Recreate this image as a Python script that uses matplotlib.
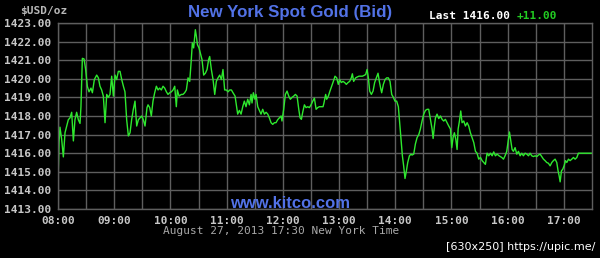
import matplotlib
matplotlib.use("Agg")
import matplotlib.pyplot as plt

# minutes after 08:00 and bid price
times = [0, 1.1, 2.1, 3.9, 5.7, 7.5, 9.3, 11.0, 12.8, 14.6, 16.4, 18.1, 19.9, 21.7, 23.5, 24.5,
         26.0, 27.8, 29.5, 31.3, 33.1, 35.2, 36.7, 38.8, 41.3, 43.1, 44.8, 46.6, 48.4, 50.2, 52.0,
         53.7, 55.5, 57.3, 59.1, 60.9, 62.6, 64.4, 66.2, 68.0, 69.8, 71.5, 73.3, 75.1, 76.9, 78.6,
         80.4, 82.2, 84.0, 85.8, 87.5, 89.3, 91.1, 92.9, 95.0,
         96.1, 97.9, 99.6, 101.4, 103.2, 105.0, 106.8, 108.5, 110.3, 112.1, 113.9, 115.7, 117.4,
         119.2, 121.0, 122.8, 124.6, 126.3, 127.4, 129.2, 131.6, 133.4, 135.2, 137.0, 138.8, 140.6,
         142.3, 143.4, 144.8, 146.6, 147.7, 148.8, 150.5, 151.9, 153.7, 155.5, 157.3, 159.1, 160.8,
         161.9, 163.7, 165.5, 167.3, 169.0, 170.8, 172.6, 174.4, 176.1, 177.9, 179.7, 181.5, 183.3,
         185.1, 186.8, 189.0,
         191.8, 193.6, 195.4, 197.2, 198.9, 200.7, 202.5, 204.3, 206.1, 207.1, 208.5, 210.3, 211.4,
         213.2, 215.0, 216.7, 218.5, 220.3, 222.1, 223.9, 225.6, 227.4, 229.2, 231.0, 232.7, 234.5,
         236.3, 238.1, 239.1, 240.9, 242.7, 244.5, 246.3, 248.0, 249.8, 251.6, 253.4, 255.2, 257.0,
         258.4, 259.8, 261.2, 263.0, 264.8, 266.6, 268.3, 270.1, 271.9, 273.7, 275.5, 277.2, 279.0,
         280.8, 282.9,
         283.9, 285.7, 286.8, 288.6, 290.3, 292.1, 293.9, 295.7, 297.5, 299.2, 300.7, 302.4, 304.2,
         306.0, 307.8, 309.6, 311.3, 313.1, 314.2, 315.6, 317.7, 319.5, 321.3, 323.1, 324.9, 326.6,
         328.4, 329.9, 331.3, 332.7, 334.5, 336.3, 338.0, 339.8, 341.6, 343.0, 344.4, 345.5, 347.3,
         349.1, 350.8, 352.6, 354.4, 356.2, 358.0, 359.7, 361.5, 363.3, 364.7, 366.2, 367.6, 369.0,
         370.4, 371.9, 373.3, 375.1, 376.8,
         377.9, 379.7, 381.5, 383.3, 385.1, 386.8, 388.6, 390.4, 392.2, 394.0, 395.7, 397.5, 399.3,
         400.4, 401.8, 402.9, 404.6, 406.4, 408.2, 410.0, 411.7, 413.5, 415.3, 417.1, 418.9, 420.3,
         421.7, 423.1, 424.6, 426.0, 427.1, 428.5, 429.9, 431.3, 433.1, 434.9, 436.7, 438.4, 440.2,
         442.0, 443.8, 445.6, 447.3, 449.1, 450.9, 452.7, 454.5, 456.2, 458.0, 459.8, 461.6, 463.4,
         465.1, 466.9, 468.7, 470.8,
         473.7, 475.5, 477.2, 479.0, 480.8, 481.9, 483.3, 484.7, 486.1, 487.9, 489.7, 491.5, 493.3,
         495.0, 496.8, 498.6, 500.4, 502.2, 503.9, 505.7, 507.5, 509.3, 511.1, 512.8, 514.6, 516.4,
         518.2, 519.9, 521.7, 523.5, 525.3, 527.1, 528.8, 530.6, 532.4, 533.8, 534.9, 536.0, 537.4,
         538.8, 540.2, 541.7, 543.1, 544.9, 546.6, 548.4, 550.2, 552.0, 553.8, 555.5, 557.3, 570.0]

prices = [1414.43, 1416.57, 1417.40, 1416.75, 1415.80, 1417.10, 1417.46, 1417.80, 1417.90, 1418.20,
          1416.66, 1417.80, 1418.20, 1417.80, 1417.60, 1418.50, 1421.10, 1421.07, 1420.50, 1419.60,
          1419.30, 1419.50, 1419.25, 1419.96, 1420.20, 1420.05, 1419.60, 1419.40, 1419.07, 1417.64,
          1419.16, 1419.00, 1419.16, 1420.14, 1419.07, 1420.20, 1419.96, 1420.40, 1420.40, 1419.96,
          1419.60, 1419.30, 1417.80, 1416.93, 1417.10, 1417.80, 1418.36, 1418.80, 1417.46, 1417.80,
          1417.90, 1418.00, 1417.80, 1417.46, 1418.45,
          1418.60, 1418.45, 1418.00, 1418.80, 1419.25, 1419.60, 1419.40, 1419.50, 1419.40, 1419.60,
          1419.50, 1419.30, 1419.16, 1419.25, 1419.30, 1419.40, 1419.60, 1418.50, 1419.40, 1419.07,
          1419.16, 1419.16, 1419.25, 1419.40, 1420.05, 1419.86, 1421.04, 1421.93, 1421.66, 1422.64,
          1422.29, 1421.84, 1421.66, 1421.39, 1421.04, 1420.20, 1420.30, 1420.50, 1421.04, 1421.20,
          1420.50, 1419.96, 1419.16, 1419.86, 1420.05, 1420.20, 1419.96, 1420.50, 1419.40, 1419.40,
          1419.30, 1419.40, 1419.40, 1419.25, 1419.07,
          1418.10, 1418.30, 1418.10, 1418.50, 1418.80, 1418.50, 1418.90, 1418.60, 1419.16, 1418.70,
          1419.25, 1418.90, 1419.16, 1418.50, 1418.30, 1418.10, 1418.36, 1418.10, 1418.20, 1418.10,
          1417.90, 1417.64, 1417.55, 1417.64, 1417.64, 1417.80, 1417.90, 1418.00, 1417.73, 1418.36,
          1419.16, 1419.34, 1419.07, 1418.90, 1419.00, 1419.07, 1419.16, 1419.07, 1418.36, 1417.90,
          1417.82, 1418.20, 1418.60, 1418.45, 1418.50, 1418.45, 1418.60, 1418.80, 1418.96, 1418.36,
          1418.45, 1418.50, 1418.50, 1418.50,
          1418.70, 1419.16, 1418.90, 1419.07, 1419.34, 1419.60, 1419.86, 1420.14, 1420.05, 1419.70,
          1419.96, 1419.80, 1419.86, 1419.80, 1419.70, 1419.80, 1419.86, 1420.05, 1420.27, 1419.86,
          1420.05, 1420.10, 1420.14, 1420.14, 1420.14, 1420.18, 1420.23, 1420.50, 1420.05, 1419.34,
          1419.16, 1419.34, 1419.80, 1420.05, 1420.30, 1419.86, 1419.50, 1419.25, 1419.70, 1419.96,
          1420.05, 1420.05, 1419.86, 1419.16, 1419.00, 1418.80, 1418.80, 1418.50, 1417.64, 1416.75,
          1415.86, 1415.30, 1414.64, 1415.05, 1415.50, 1415.86, 1415.95,
          1415.90, 1415.95, 1416.50, 1416.84, 1417.00, 1417.30, 1417.73, 1418.10, 1418.30, 1418.36,
          1418.36, 1417.82, 1417.30, 1416.79, 1417.46, 1417.90, 1418.10, 1417.86, 1418.00, 1417.82,
          1417.73, 1417.82, 1417.64, 1417.46, 1417.30, 1416.30, 1416.84, 1417.10, 1416.75, 1416.20,
          1417.30, 1417.73, 1418.27, 1417.64, 1417.73, 1417.46, 1417.64, 1417.46, 1417.10, 1416.84,
          1416.57, 1416.10, 1416.00, 1415.68, 1415.77, 1415.60, 1415.50, 1415.40, 1416.00, 1415.86,
          1416.00, 1415.86, 1416.07, 1415.86, 1415.95, 1415.86,
          1415.77, 1415.68, 1415.86, 1416.10, 1416.75, 1417.14, 1416.66, 1416.20, 1416.10, 1416.30,
          1415.95, 1416.10, 1415.86, 1416.00, 1415.86, 1416.00, 1415.95, 1415.86, 1416.00, 1415.86,
          1415.82, 1415.86, 1415.82, 1415.90, 1415.95, 1415.82, 1415.68, 1415.60, 1415.50, 1415.46,
          1415.32, 1415.50, 1415.60, 1415.68, 1415.50, 1415.05, 1414.79, 1414.46, 1415.05, 1415.14,
          1415.32, 1415.60, 1415.50, 1415.68, 1415.60, 1415.68, 1415.77, 1415.68, 1415.77, 1416.00,
          1416.00, 1416.00]

hour_labels = ["08:00", "09:00", "10:00", "11:00", "12:00", "13:00", "14:00", "15:00", "16:00", "17:00"]
y_ticks = [1413, 1414, 1415, 1416, 1417, 1418, 1419, 1420, 1421, 1422, 1423]

W, H = 600, 258
fig = plt.figure(figsize=(W / 100, H / 100), dpi=100, facecolor="black")

def fx(px):
    return px / W

def fy(py):
    return 1 - py / H

left, right, top, bottom = 58, 592, 23, 209
ax = fig.add_axes([fx(left), fy(bottom), fx(right) - fx(left), fy(top) - fy(bottom)])
ax.set_facecolor("black")

grid_c = "#5e5e5e"
ax.set_xlim(0, 570)
ax.set_ylim(1413, 1423)
ax.set_xticks([i * 60 for i in range(len(hour_labels))])
ax.set_xticklabels(hour_labels)
ax.set_xticks([30 + i * 60 for i in range(10) if 30 + i * 60 < 570], minor=True)
ax.set_yticks(y_ticks)
ax.set_yticklabels(["%.2f" % v for v in y_ticks])
ax.grid(True, which="both", color=grid_c, linewidth=1.0)
ax.set_axisbelow(True)
for s in ax.spines.values():
    s.set_color(grid_c)
    s.set_linewidth(1.0)
ax.tick_params(which="both", length=0, colors="#c8c8c8", pad=5)
mono = "DejaVu Sans Mono"
for lab in ax.get_xticklabels() + ax.get_yticklabels():
    lab.set_fontfamily(mono)
    lab.set_fontweight("bold")
    lab.set_fontsize(8)
    lab.set_color("#c8c8c8")

ax.plot(times, prices, color="#2ee82e", linewidth=1.0, solid_joinstyle="round")

# texts
fig.text(fx(20), fy(11), "$USD/oz", family=mono, fontsize=8, weight="bold", color="#b8b8b8",
         ha="left", va="center")
fig.text(fx(290), fy(12), "New York Spot Gold (Bid)", family="Liberation Sans", fontsize=12.2,
         weight="bold", color="#5272e6", ha="center", va="center")
fig.text(fx(429), fy(16), "Last 1416.00", family=mono, fontsize=8, weight="bold", color="white",
         ha="left", va="center")
fig.text(fx(517), fy(16), "+11.00", family=mono, fontsize=8, weight="bold", color="#22cc22",
         ha="left", va="center")
fig.text(fx(290), fy(203), "www.kitco.com", family="Liberation Sans", fontsize=12,
         weight="bold", color="#5272e6", ha="center", va="center")
fig.text(fx(281), fy(231), "August 27, 2013 17:30 New York Time", family=mono, fontsize=8,
         color="#a8a8a8", ha="center", va="center")
fig.text(fx(595), fy(247), "[630x250] https://upic.me/", family="DejaVu Sans", fontsize=8,
         color="white", ha="right", va="center")

fig.savefig("out.png", dpi=100, facecolor="black")
